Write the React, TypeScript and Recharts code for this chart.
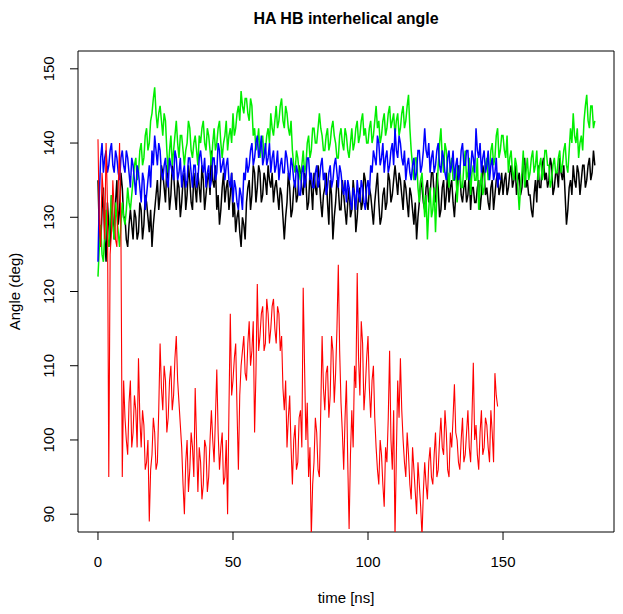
import { LineChart, Line, XAxis, YAxis, ReferenceArea } from 'recharts';

// angle (deg) every STEP_NS ns; the *Mid arrays are the readings half a step later
const STEP_NS = 1;

const blackDeg = [
  135, 126, 134, 124, 129, 133, 127, 135, 131, 134,
  130, 126, 131, 127, 130, 128, 131, 129, 132, 128,
  126, 131, 135, 133, 136, 132, 135, 133, 136, 131,
  134, 132, 136, 133, 135, 131, 134, 136, 132, 135,
  133, 136, 139, 134, 131, 129, 134, 132, 135, 133,
  130, 128, 131, 126, 129, 132, 135, 133, 136, 134,
  136, 133, 135, 137, 134, 132, 135, 131, 133, 127,
  132, 134, 131, 135, 133, 136, 133, 135, 132, 134,
  136, 133, 135, 130, 134, 132, 135, 127, 132, 134,
  131, 133, 129, 134, 131, 133, 130, 134, 132, 135,
  131, 133, 129, 134, 132, 130, 134, 132, 135, 133,
  137, 133, 135, 131, 134, 130, 133, 129, 127, 132,
  134, 131, 135, 133, 136, 132, 134, 131, 135, 133,
  132, 135, 130, 134, 136, 132, 135, 133, 131, 134,
  132, 135, 133, 136, 134, 131, 135, 133, 136, 134,
  133, 136, 134, 137, 135, 133, 136, 134, 138, 135,
  133, 130, 135, 137, 134, 138, 136, 135, 137, 134,
  136, 138, 135, 133, 131, 135, 137, 134, 136, 135,
  137, 135, 138, 136, 137,
];
const blackMid = [
  128, 131, 127, 132, 126, 130, 132, 129, 136, 130,
  127, 129, 129, 131, 127, 132, 127, 133, 130, 131,
  129, 133, 131, 137, 134, 137, 131, 137, 133, 135,
  130, 135, 131, 137, 132, 136, 132, 134, 137, 131,
  135, 133, 135, 137, 133, 131, 136, 134, 131, 136,
  132, 130, 128, 130, 127, 134, 131, 137, 132, 137,
  132, 136, 133, 135, 136, 134, 133, 134, 130, 130,
  136, 130, 134, 132, 137, 134, 136, 131, 136, 131,
  134, 137, 132, 133, 136, 129, 133, 130, 135, 131,
  135, 131, 132, 130, 135, 128, 133, 131, 136, 132,
  134, 131, 132, 136, 129, 133, 131, 136, 132, 135,
  135, 136, 133, 135, 132, 134, 131, 132, 130, 135,
  132, 134, 132, 136, 133, 136, 130, 134, 131, 136,
  134, 132, 133, 137, 133, 134, 132, 136, 134, 132,
  134, 131, 137, 133, 132, 134, 131, 135, 133, 136,
  135, 133, 136, 134, 137, 135, 133, 137, 134, 133,
  131, 133, 132, 134, 137, 135, 134, 138, 133, 136,
  134, 136, 137, 129, 134, 133, 135, 137, 133, 137,
  134, 137, 135, 139,
];

const blueDeg = [
  124, 138, 136, 139, 137, 140, 136, 138, 135, 139,
  136, 138, 134, 137, 133, 136, 132, 135, 133, 137,
  139, 141, 137, 139, 135, 138, 134, 137, 135, 138,
  136, 134, 137, 135, 138, 134, 137, 135, 139, 136,
  134, 137, 135, 138, 136, 139, 137, 135, 138, 134,
  132, 134, 131, 133, 136, 138, 137, 140, 138, 141,
  139, 137, 140, 138, 136, 139, 137, 135, 138, 136,
  138, 135, 137, 134, 136, 133, 137, 135, 138, 136,
  134, 137, 135, 138, 136, 134, 137, 135, 138, 134,
  136, 133, 132, 134, 131, 133, 135, 132, 134, 131,
  135, 137, 139, 137, 140, 138, 136, 139, 137, 140,
  142, 138, 140, 137, 135, 138, 135, 138, 136, 139,
  137, 142, 138, 136, 139, 137, 140, 136, 138, 135,
  139, 137, 135, 138, 136, 140, 137, 139, 136, 138,
  142, 138, 136, 139, 137, 135, 138, 136, 134, 135,
];
const blueMid = [
  133, 140, 138, 136, 139, 137, 139, 136, 138, 137,
  139, 136, 138, 135, 137, 134, 136, 131, 135, 134,
  137, 139, 140, 136, 137, 135, 138, 136, 139, 135,
  138, 136, 134, 138, 136, 137, 134, 138, 137, 138,
  136, 134, 138, 135, 140, 136, 138, 137, 135, 136,
  135, 132, 134, 131, 135, 136, 139, 137, 140, 138,
  141, 138, 137, 140, 138, 136, 139, 137, 136, 139,
  136, 138, 135, 137, 133, 136, 134, 138, 135, 134,
  136, 134, 137, 135, 133, 136, 134, 137, 136, 137,
  134, 135, 135, 132, 134, 131, 133, 135, 132, 134,
  133, 136, 138, 141, 137, 140, 138, 136, 139, 137,
  139, 141, 138, 139, 137, 136, 137, 135, 139, 136,
  139, 139, 140, 138, 136, 139, 137, 139, 136, 138,
  136, 139, 137, 135, 139, 137, 139, 135, 139, 136,
  139, 140, 138, 136, 139, 137, 135, 138, 136,
];

const greenDeg = [
  122, 129, 124, 131, 126, 133, 127, 130, 126, 132,
  129, 134, 131, 135, 138, 136, 140, 138, 142, 140,
  144, 147.5, 142, 145, 141, 143, 136, 141, 139, 143,
  138, 141, 137, 140, 142, 138, 141, 137, 140, 143,
  139, 141, 137, 142, 140, 143, 138, 141, 139, 142,
  144, 142, 145, 147, 144, 146, 143, 145, 142, 140,
  138, 141, 139, 142, 144, 141, 145, 143, 146, 142,
  144, 141, 139, 136, 138, 135, 139, 137, 141, 139,
  142, 140, 144, 141, 139, 142, 140, 143, 140, 138,
  142, 139, 141, 138, 142, 140, 143, 141, 144, 142,
  140, 143, 141, 145, 143, 141, 144, 142, 145, 143,
  141, 144, 142, 145, 143, 146.5, 139, 135, 138, 132,
  136, 130, 127, 134, 131, 128, 137, 142, 136, 139,
  134, 138, 135, 132, 137, 134, 139, 136, 133, 137,
  135, 131, 136, 134, 138, 136, 140, 138, 142, 139,
  141, 138, 136, 139, 135, 137, 131, 136, 134, 138,
  136, 139, 137, 135, 138, 136, 139, 137, 135, 138,
  136, 139, 137, 140, 136, 142, 144, 140, 138, 141,
  143, 146.5, 142, 145, 143,
];
const greenMid = [
  126, 125, 128, 127, 130, 129, 132, 128, 129, 130,
  131, 132, 133, 137, 135, 139, 137, 141, 139, 143,
  146, 144, 144, 143, 144, 139, 139, 137, 141, 140,
  141, 139, 139, 143, 139, 140, 139, 141, 142, 140,
  142, 139, 140, 139, 142, 140, 140, 143, 141, 140,
  141, 144, 143, 145, 146, 144, 146, 141, 139, 142,
  140, 138, 141, 140, 142, 143, 142, 145, 143, 145,
  142, 143, 137, 139, 136, 137, 136, 140, 138, 142,
  140, 142, 142, 139, 141, 139, 142, 141, 138, 141,
  140, 142, 139, 140, 139, 142, 140, 143, 141, 140,
  142, 140, 143, 142, 140, 143, 141, 144, 142, 144,
  143, 141, 144, 142, 145, 142, 137, 138, 134, 135,
  133, 133, 131, 130, 134, 133, 140, 138, 140, 136,
  137, 135, 137, 135, 134, 137, 135, 138, 136, 135,
  138, 134, 133, 137, 135, 139, 137, 141, 138, 141,
  139, 141, 138, 136, 138, 134, 134, 139, 136, 135,
  138, 136, 139, 137, 135, 139, 137, 134, 137, 136,
  138, 136, 139, 137, 139, 140, 141, 142, 140, 139,
  145, 143, 145, 142,
];

const redDeg = [
  140.5, 126, 133, 140, 95, 128, 131, 126, 140, 95,
  103, 98, 108, 101, 104, 111, 99, 102, 97, 89,
  98, 101, 97, 113, 104, 108, 103, 110, 106, 114,
  105, 99, 90, 100, 96, 99, 107, 93, 97, 94,
  99, 95, 104, 97, 109.5, 96, 101, 95, 90, 117,
  108, 113, 96, 110, 114, 108, 116, 112, 101, 121,
  114, 118, 113, 117, 115, 119, 113, 117, 114, 104,
  99, 106, 94, 102, 97, 104, 120.5, 100, 95, 87,
  97, 101, 95, 114, 104, 110, 106, 112, 109, 123.6,
  105, 96, 108, 88, 104, 110, 122.5, 106, 113, 107,
  114, 103, 110, 99, 94, 98, 91, 97, 112, 96,
  87, 108, 111, 100, 95, 98, 92, 96, 90, 94,
  87, 97, 92, 99, 94, 101, 96, 103, 98, 101,
  95, 99, 107.5, 100, 96, 103, 98, 104, 97, 110.4,
  102, 96, 104, 99, 102, 97, 101, 109, 104.5,
];
const redMid = [
  129, 136, 127, 132, 125, 135, 127, 134, 128, 108,
  100, 105, 99, 106, 99, 103, 104, 96, 100, 96,
  103, 96, 104, 107, 110, 101, 108, 104, 111, 108,
  102, 94, 97, 93, 101, 95, 100, 99, 92, 100,
  93, 100, 100, 103, 101, 99, 94, 100, 104, 106,
  111, 104, 106, 112, 109, 113, 110, 116, 109, 112,
  117, 112, 119, 113, 118, 115, 118, 112, 107, 108,
  103, 99, 100, 96, 103, 99, 110, 105, 99, 94,
  103, 96, 104, 107, 109, 103, 114, 105, 115, 112,
  101, 103, 97, 98, 99, 107, 111, 116, 104, 111,
  107, 108, 103, 96, 100, 94, 99, 103, 100, 104,
  98, 103, 104, 97, 101, 94, 99, 93, 97, 91,
  93, 94, 97, 95, 98, 95, 100, 99, 104, 96,
  101, 103, 101, 97, 100, 97, 101, 99, 103, 100,
  98, 101, 98, 103, 99, 104, 97, 106,
];

const xTicks = [0, 50, 100, 150];
const yTicks = [90, 100, 110, 120, 130, 140, 150];

// interleave whole-step and half-step readings into {t, v} points
const toPoints = (vals: number[], mids: number[]) => {
  const pts: { t: number; v: number }[] = [];
  vals.forEach((v, i) => {
    pts.push({ t: i * STEP_NS, v });
    if (i < mids.length) pts.push({ t: (i + 0.5) * STEP_NS, v: mids[i] });
  });
  return pts;
};

const FONT = '"Liberation Sans", Arial, Helvetica, sans-serif';
const X_DOMAIN: [number, number] = [-7.4, 191.1];
const Y_DOMAIN: [number, number] = [87.6, 152.4];

const XTick = ({ x, y, payload }: any) => (
  <text x={x} y={y} dy="0.71em" textAnchor="middle" fontSize={15} fontFamily={FONT} fill="#000">
    {payload.value}
  </text>
);

const YTick = ({ x, y, payload }: any) => (
  <text
    x={x}
    y={y}
    textAnchor="middle"
    fontSize={15}
    fontFamily={FONT}
    fill="#000"
    transform={`rotate(-90 ${x} ${y})`}
  >
    {payload.value}
  </text>
);

export default function App() {
  return (
    <div style={{ position: 'absolute', left: 0, top: 0, width: 623, height: 614, background: '#fff' }}>
      <LineChart width={623} height={614} margin={{ top: 51, right: 9, bottom: 0, left: 0 }}>
        <XAxis
          type="number"
          dataKey="t"
          domain={X_DOMAIN}
          ticks={xTicks}
          allowDataOverflow
          axisLine={false}
          tickSize={8}
          tickMargin={16}
          tickLine={{ stroke: '#000' }}
          tick={<XTick />}
          height={82}
        />
        <YAxis
          type="number"
          dataKey="v"
          domain={Y_DOMAIN}
          ticks={yTicks}
          allowDataOverflow
          axisLine={false}
          tickSize={8}
          tickMargin={16}
          tickLine={{ stroke: '#000' }}
          tick={<YTick />}
          width={78}
        />
        <ReferenceArea
          x1={X_DOMAIN[0]}
          x2={X_DOMAIN[1]}
          y1={Y_DOMAIN[0]}
          y2={Y_DOMAIN[1]}
          fill="none"
          stroke="#000"
          strokeWidth={1}
        />
        <Line data={toPoints(blackDeg, blackMid)} dataKey="v" stroke="#000000" strokeWidth={1.5} dot={false} isAnimationActive={false} />
        <Line data={toPoints(greenDeg, greenMid)} dataKey="v" stroke="#00ee00" strokeWidth={1.5} dot={false} isAnimationActive={false} />
        <Line data={toPoints(blueDeg, blueMid)} dataKey="v" stroke="#0000ff" strokeWidth={1.5} dot={false} isAnimationActive={false} />
        <Line data={toPoints(redDeg, redMid)} dataKey="v" stroke="#ff0000" strokeWidth={1.1} dot={false} isAnimationActive={false} />
      </LineChart>
      <svg width={623} height={614} style={{ position: 'absolute', left: 0, top: 0, pointerEvents: 'none' }}>
        <text x={346} y={24} textAnchor="middle" fontSize={16} fontWeight="bold" fontFamily={FONT} fill="#000">
          HA HB interhelical angle
        </text>
        <text x={346} y={603} textAnchor="middle" fontSize={15} fontFamily={FONT} fill="#000">
          time [ns]
        </text>
        <text
          x={20}
          y={291.5}
          textAnchor="middle"
          fontSize={15}
          fontFamily={FONT}
          fill="#000"
          transform="rotate(-90 20 291.5)"
        >
          Angle (deg)
        </text>
      </svg>
    </div>
  );
}
